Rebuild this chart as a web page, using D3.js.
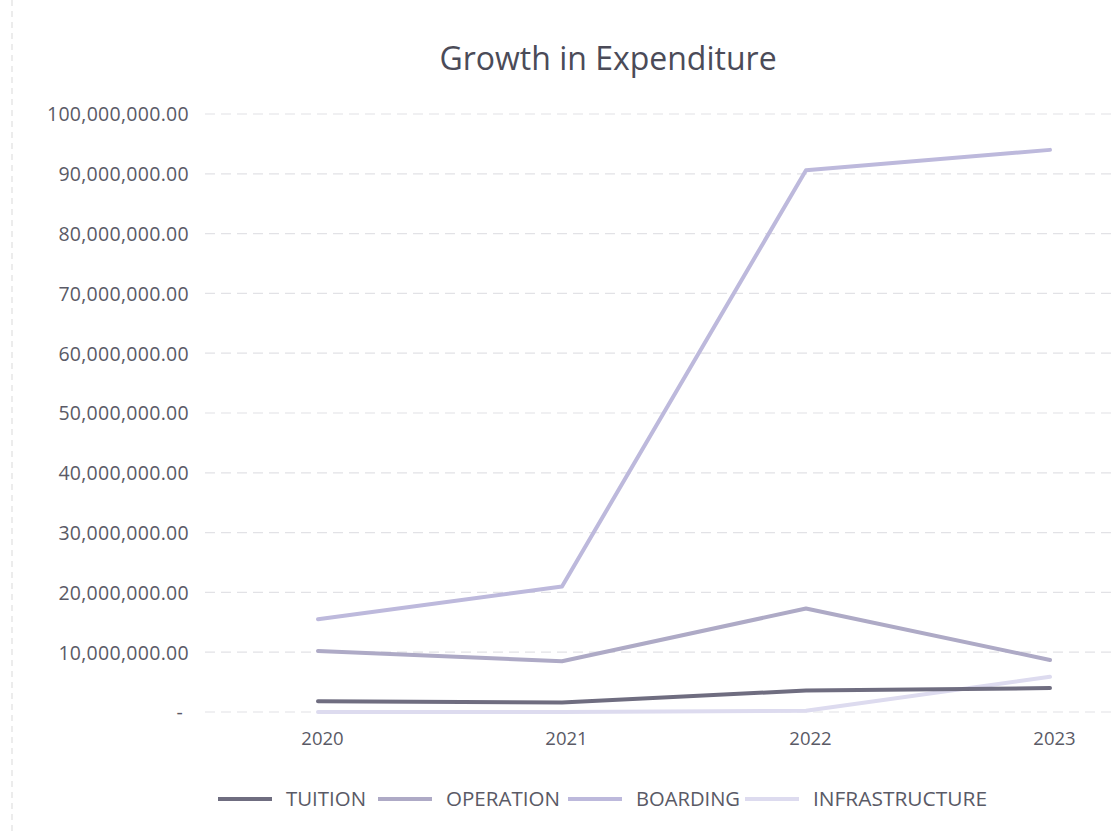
<!DOCTYPE html>
<html>
<head>
<meta charset="utf-8">
<script src="https://cdn.jsdelivr.net/npm/d3@7"></script>
<style>
  html, body { margin: 0; padding: 0; background: #fff; }
  svg { display: block; }
</style>
</head>
<body>
<svg id="chart" width="1114" height="832"></svg>
<script>
// ---- data ----
const years = ["2020", "2021", "2022", "2023"];
const seriesNames = ["TUITION", "OPERATION", "BOARDING", "INFRASTRUCTURE"];
const tuition = [1800000, 1600000, 3600000, 4000000];
const operation = [10200000, 8500000, 17300000, 8700000];
const boarding = [15500000, 21000000, 90600000, 94000000];
const infrastructure = [0, 0, 200000, 5900000];
const yTicks = [0, 10000000, 20000000, 30000000, 40000000, 50000000, 60000000, 70000000, 80000000, 90000000, 100000000];
const titleText = "Growth in Expenditure";

const seriesValues = [tuition, operation, boarding, infrastructure];
const colors = ["#6f6d80", "#aeaac6", "#bdb9dc", "#dddbef"];

const svg = d3.select("#chart");
const W = 1114, H = 832;

// faint photo-edge line on the left
svg.append("line").attr("x1", 12).attr("x2", 12).attr("y1", 0).attr("y2", H)
  .attr("stroke", "#e6e6e6").attr("stroke-width", 1.5).attr("stroke-dasharray", "6,5");

const plot = { left: 205, right: 1114, top: 114, bottom: 712 };

const x = d3.scalePoint().domain(years).range([318, 1050]);
const y = d3.scaleLinear().domain([0, 100000000]).range([plot.bottom, plot.top]);

// title
svg.append("text").attr("x", 608).attr("y", 70).attr("text-anchor", "middle")
  .attr("font-family", "'Open Sans', sans-serif").attr("font-size", 32)
  .attr("fill", "#4b4b58").text(titleText);

// gridlines
svg.append("g").selectAll("line").data(yTicks).join("line")
  .attr("x1", plot.left).attr("x2", plot.right)
  .attr("y1", d => y(d)).attr("y2", d => y(d))
  .attr("stroke", "#e2e2e6").attr("stroke-width", 1.2)
  .attr("stroke-dasharray", "10,6");

// y axis labels
const fmt = d => d === 0 ? "-" : d3.format(",.2f")(d);
const yAxis = d3.axisLeft(y).tickValues(yTicks).tickFormat(fmt).tickSize(0).tickPadding(0);
const gy = svg.append("g").attr("transform", "translate(189,0)").call(yAxis);
gy.select(".domain").remove();
gy.selectAll("text").attr("font-family", "'Open Sans', sans-serif").attr("font-size", 19.5)
  .attr("letter-spacing", "0.3px")
  .attr("fill", "#5a5a66").attr("dy", "0.35em");
gy.selectAll(".tick").filter(d => d === 0).select("text").attr("dx", -6);

// x axis labels
const xAxis = d3.axisBottom(x).tickSize(0).tickPadding(0);
const gx = svg.append("g").attr("transform", "translate(4,732)").call(xAxis);
gx.select(".domain").remove();
gx.selectAll("text").attr("font-family", "'Open Sans', sans-serif").attr("font-size", 18.5)
  .attr("fill", "#5a5a66");

// lines
const line = d3.line().x((d, i) => x(years[i])).y(d => y(d));
const order = [3, 0, 1, 2];
svg.append("g").selectAll("path").data(order).join("path")
  .attr("d", i => line(seriesValues[i]))
  .attr("fill", "none")
  .attr("stroke", i => colors[i])
  .attr("stroke-width", 4)
  .attr("stroke-linejoin", "round")
  .attr("stroke-linecap", "round");

// legend
const legendX = [218, 378, 568, 745];
const lg = svg.append("g").selectAll("g").data(seriesNames).join("g")
  .attr("transform", (d, i) => `translate(${legendX[i]},799)`);
lg.append("line").attr("x1", 0).attr("x2", 54).attr("y1", 0).attr("y2", 0)
  .attr("stroke", (d, i) => colors[i]).attr("stroke-width", 4);
lg.append("text").attr("x", 68).attr("y", 0).attr("dy", "0.35em")
  .attr("font-family", "'Open Sans', sans-serif")
  .attr("font-size", 20).attr("textLength", (d, i) => [80, 114, 104, 174][i])
  .attr("lengthAdjust", "spacingAndGlyphs")
  .attr("fill", "#5a5a66").text(d => d);
</script>
</body>
</html>
